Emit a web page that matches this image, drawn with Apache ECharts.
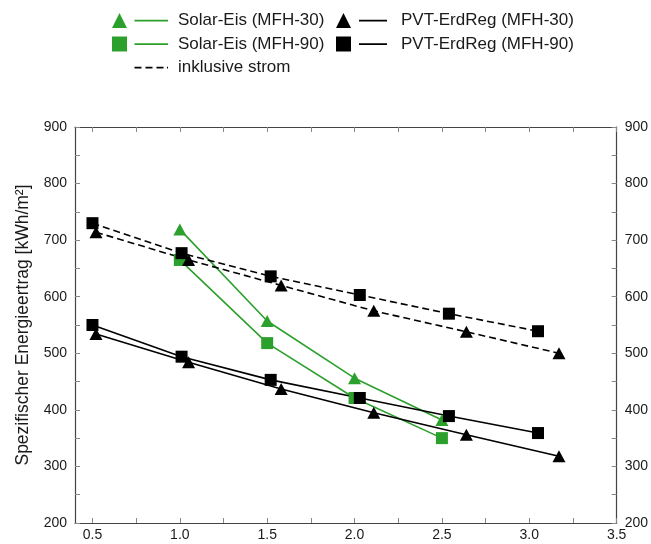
<!DOCTYPE html>
<html>
<head>
<meta charset="utf-8">
<script src="https://cdn.jsdelivr.net/npm/echarts@6/dist/echarts.min.js"></script>
<style>
  html, body { margin: 0; padding: 0; background: #ffffff; }
  #chart { width: 651px; height: 544px; }
</style>
</head>
<body>
<div id="chart"></div>
<script>
// x positions (the PVT points are staggered slightly per building type)
const xSolarEis = [1.0, 1.5, 2.0, 2.5];
const xPvt30 = [0.52, 1.05, 1.58, 2.11, 2.64, 3.17];
const xPvt90 = [0.5, 1.01, 1.52, 2.03, 2.54, 3.05];

// specific energy yield in kWh/m²
const solarEis30 = [719, 557, 456, 382];
const solarEis90 = [665, 518, 421, 350];
const pvt30 = [534, 484, 437, 395, 356, 318];
const pvt90 = [550, 494, 453, 421, 389, 359];
const pvt30Strom = [714, 665, 620, 575, 538, 500];
const pvt90Strom = [730, 677, 636, 603, 570, 539];

// axis ticks and labels
const xTickValues = [0.5, 0.75, 1.0, 1.25, 1.5, 1.75, 2.0, 2.25, 2.5, 2.75, 3.0, 3.25, 3.5];
const xLabelValues = [0.5, 1.0, 1.5, 2.0, 2.5, 3.0, 3.5];

const names = {
  se30: 'Solar-Eis (MFH-30)',
  se90: 'Solar-Eis (MFH-90)',
  pvt30: 'PVT-ErdReg (MFH-30)',
  pvt90: 'PVT-ErdReg (MFH-90)',
  strom: 'inklusive strom'
};
const yName = 'Spezifischer Energieertrag [kWh/m²]';

const GREEN = '#2ca02c';
const BLACK = '#000000';
const AXIS = '#444444';
const FONT = 'Liberation Sans';

function pairs(xs, ys) { return xs.map((x, i) => [x, ys[i]]); }

// legend icons: marker + short line segment
const iconTri1 = 'path://M7.5 0L15 15H0Z M22.5 6.8H56V8.4H22.5Z';
const iconSq1 = 'path://M0 0H15V15H0Z M22.5 6.8H56V8.4H22.5Z';
const iconDash1 = 'path://M0 0h0.01v0.01h-0.01Z M22.5 6.8h7v1.6h-7Z M33.5 6.8h7v1.6h-7Z M44.5 6.8h7v1.6h-7Z M55 6.8h1v1.6h-1Z M55.99 14.99h0.01v0.01h-0.01Z';
const iconTri2 = 'path://M7.5 0L15 15H0Z M23 6.8H51V8.4H23Z';
const iconSq2 = 'path://M0 0H15V15H0Z M23 6.8H51V8.4H23Z';

function lineSeries(name, xs, ys, color, symbol, size, dashed) {
  return {
    name: name,
    type: 'line',
    data: pairs(xs, ys),
    symbol: symbol,
    symbolSize: size,
    showSymbol: true,
    animation: false,
    lineStyle: { color: color, width: 1.6, type: dashed ? [7, 4] : 'solid' },
    itemStyle: { color: color, borderWidth: 0 },
    emphasis: { disabled: true }
  };
}

const legendText = { fontFamily: FONT, fontSize: 17, color: '#1a1a1a', lineHeight: 17 };

const option = {
  animation: false,
  grid: { left: 75, right: 34, top: 127, bottom: 21, containLabel: false },
  legend: [
    {
      left: 107, top: 7, orient: 'vertical', itemGap: 6.5,
      itemWidth: 56, itemHeight: 15, selectedMode: false,
      itemStyle: { borderWidth: 0 },
      textStyle: Object.assign({ padding: [0, 0, 0, 5] }, legendText),
      data: [
        { name: names.se30, icon: iconTri1 },
        { name: names.se90, icon: iconSq1 },
        { name: names.strom, icon: iconDash1 }
      ]
    },
    {
      left: 331, top: 7, orient: 'vertical', itemGap: 6.5,
      itemWidth: 51, itemHeight: 15, selectedMode: false,
      itemStyle: { borderWidth: 0 },
      textStyle: Object.assign({ padding: [0, 0, 0, 9] }, legendText),
      data: [
        { name: names.pvt30, icon: iconTri2 },
        { name: names.pvt90, icon: iconSq2 }
      ]
    }
  ],
  xAxis: [
    {
      type: 'value', position: 'bottom', min: 0.4, max: 3.5,
      axisLine: { show: true, lineStyle: { color: AXIS, width: 1.2 } },
      axisTick: { show: true, inside: true, length: 5, customValues: xTickValues, lineStyle: { color: '#888888' } },
      axisLabel: {
        show: true, customValues: xLabelValues, margin: 5,
        fontFamily: FONT, fontSize: 14, color: '#1a1a1a',
        formatter: v => v.toFixed(1)
      },
      splitLine: { show: false }
    },
    {
      type: 'value', position: 'top', min: 0.4, max: 3.5,
      axisLine: { show: true, lineStyle: { color: AXIS, width: 1.2 } },
      axisTick: { show: true, inside: true, length: 5, customValues: xTickValues, lineStyle: { color: '#888888' } },
      axisLabel: { show: false },
      splitLine: { show: false }
    }
  ],
  yAxis: [
    {
      type: 'value', position: 'left', min: 200, max: 900, interval: 100,
      name: yName, nameLocation: 'middle', nameGap: 43,
      nameTextStyle: { fontFamily: FONT, fontSize: 17.5, color: '#1a1a1a' },
      axisLine: { show: true, lineStyle: { color: AXIS, width: 1.2 } },
      axisTick: { show: true, inside: true, length: 5, lineStyle: { color: '#888888' } },
      minorTick: { show: true, splitNumber: 2, length: 5, lineStyle: { color: '#888888' } },
      axisLabel: { margin: 8, fontFamily: FONT, fontSize: 14, color: '#1a1a1a' },
      splitLine: { show: false }
    },
    {
      type: 'value', position: 'right', min: 200, max: 900, interval: 100,
      axisLine: { show: true, lineStyle: { color: AXIS, width: 1.2 } },
      axisTick: { show: true, inside: true, length: 5, lineStyle: { color: '#888888' } },
      minorTick: { show: true, splitNumber: 2, length: 5, lineStyle: { color: '#888888' } },
      axisLabel: { margin: 8, fontFamily: FONT, fontSize: 14, color: '#1a1a1a' },
      splitLine: { show: false }
    }
  ],
  series: [
    lineSeries(names.se30, xSolarEis, solarEis30, GREEN, 'triangle', [13, 12], false),
    lineSeries(names.se90, xSolarEis, solarEis90, GREEN, 'rect', 12, false),
    lineSeries(names.pvt30, xPvt30, pvt30, BLACK, 'triangle', [13, 12], false),
    lineSeries(names.pvt90, xPvt90, pvt90, BLACK, 'rect', 12, false),
    lineSeries(names.pvt30 + ' ' + names.strom, xPvt30, pvt30Strom, BLACK, 'triangle', [13, 12], true),
    lineSeries(names.pvt90 + ' ' + names.strom, xPvt90, pvt90Strom, BLACK, 'rect', 12, true),
    // legend-only entry for the dashed style
    Object.assign(lineSeries(names.strom, [], [], BLACK, 'none', 0, true), { data: [] })
  ]
};

const chart = echarts.init(document.getElementById('chart'), null, { renderer: 'canvas' });
chart.setOption(option);
</script>
</body>
</html>
